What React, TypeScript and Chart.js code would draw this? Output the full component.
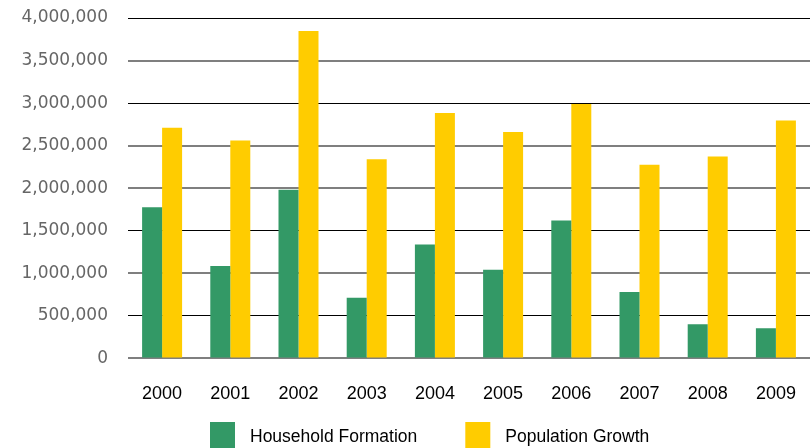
import React, { useEffect, useRef } from "react";
import { Chart, registerables } from "chart.js";

Chart.register(...registerables);

const categories = ["2000", "2001", "2002", "2003", "2004", "2005", "2006", "2007", "2008", "2009"];
const householdFormation = [1777000, 1086000, 1982000, 712000, 1338000, 1042000, 1621000, 779000, 401000, 354000];
const populationGrowth = [2711000, 2560000, 3847000, 2341000, 2884000, 2660000, 2990000, 2277000, 2372000, 2796000];
const seriesNames = ["Household Formation", "Population Growth"];
const seriesColors = ["#339966", "#FFCC00"];
const yMax = 4000000;
const yStep = 500000;
const darkGridValues = [4000000, 3000000, 1500000, 500000];

const legendPlugin = {
  id: "customLegend",
  afterDraw(chart: any) {
    const ctx = chart.ctx;
    ctx.save();
    ctx.font = "17.5px 'Liberation Sans'";
    ctx.textBaseline = "middle";
    ctx.textAlign = "left";
    let x = 210;
    const boxTop = 422;
    const boxW = 25;
    const boxH = 26;
    const textY = 437;
    chart.data.datasets.forEach((ds: any) => {
      ctx.fillStyle = ds.backgroundColor;
      ctx.fillRect(x, boxTop, boxW, boxH);
      ctx.fillStyle = "#000000";
      const tx = x + boxW + 15;
      ctx.fillText(ds.label, tx, textY);
      x = tx + ctx.measureText(ds.label).width + 48;
    });
    ctx.restore();
  },
};

export default function App() {
  const ref = useRef<HTMLCanvasElement | null>(null);
  useEffect(() => {
    if (!ref.current) return;
    const chart = new Chart(ref.current, {
      type: "bar",
      data: {
        labels: categories,
        datasets: [
          { label: seriesNames[0], data: householdFormation, backgroundColor: seriesColors[0] },
          { label: seriesNames[1], data: populationGrowth, backgroundColor: seriesColors[1] },
        ],
      },
      options: {
        animation: false,
        responsive: false,
        datasets: { bar: { barPercentage: 1, categoryPercentage: 0.5865 } },
        layout: { padding: { top: 18, right: 0, bottom: 18, left: 0 } },
        plugins: { legend: { display: false }, tooltip: { enabled: false } },
        scales: {
          x: {
            grid: { display: false, drawTicks: false },
            border: { display: false },
            afterFit: (scale: any) => {
              scale.paddingLeft = 0;
              scale.paddingRight = 0;
            },
            ticks: {
              color: "#000000",
              font: { family: "'Liberation Sans'", size: 18 },
              padding: 25,
              maxRotation: 0,
            },
          },
          y: {
            min: 0,
            max: yMax,
            border: { display: false },
            grid: {
              drawTicks: false,
              color: (c: any) => (darkGridValues.includes(c.tick?.value) ? "#000000" : "#7f7f7f"),
              lineWidth: (c: any) => (darkGridValues.includes(c.tick?.value) ? 1 : 2),
            },
            afterFit: (scale: any) => {
              scale.width = 128;
              scale.paddingTop = 0;
              scale.paddingBottom = 0;
            },
            ticks: {
              stepSize: yStep,
              color: "#666666",
              padding: 20,
              font: { family: "'DejaVu Sans'", size: 17 },
              callback: (v: any) => Number(v).toLocaleString("en-US"),
            },
          },
        },
      },
      plugins: [legendPlugin],
    });
    return () => chart.destroy();
  }, []);
  return (
    <div style={{ position: "fixed", left: 0, top: 0, width: 810, height: 448, background: "#fff" }}>
      <canvas ref={ref} width={810} height={448} style={{ display: "block" }} />
    </div>
  );
}
